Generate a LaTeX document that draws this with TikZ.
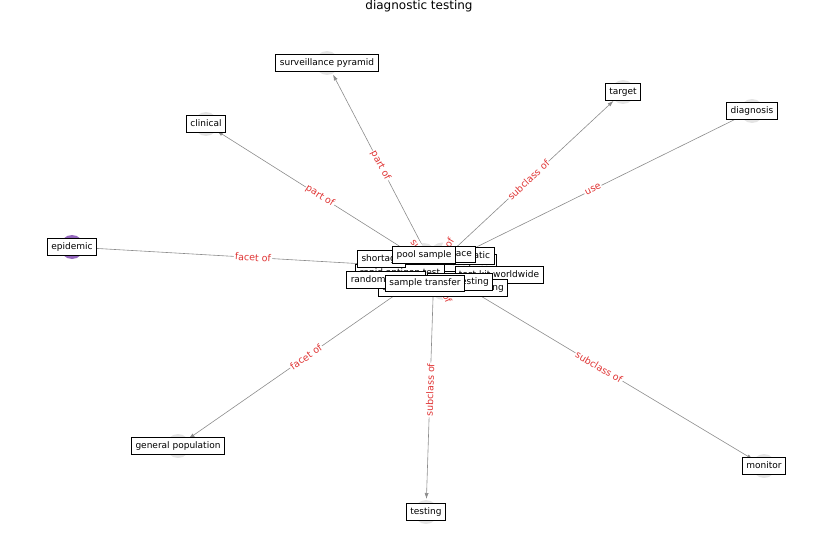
\documentclass[tikz,border=0pt]{standalone}
\usepackage{fontspec}
\setmainfont{DejaVu Sans}
\usetikzlibrary{arrows.meta}

\definecolor{edgegray}{HTML}{8C8C8C}
\definecolor{labred}{HTML}{E03434}
\definecolor{dotgray}{HTML}{E4E4E4}
\definecolor{dotpurple}{HTML}{9467BD}

\tikzset{
  ndot/.style={circle, fill=dotgray, minimum size=24pt, inner sep=0pt, outer sep=1pt},
  tag/.style={draw=black, line width=0.8pt, fill=white, font=\fontsize{9}{10}\selectfont,
    inner xsep=4pt, inner ysep=4pt, text height=6.8pt, text depth=1.9pt},
  rel/.style={draw=edgegray, line width=0.6pt, -{Latex[length=6pt,width=4pt]}},
  rellabel/.style={sloped, text=labred, fill=white, font=\fontsize{9.5}{10}\selectfont, inner sep=1pt},
}

\begin{document}
\begin{tikzpicture}[x=1pt,y=-1pt]
  \useasboundingbox (0,0) rectangle (837,559);

  % title
  \node[font=\fontsize{12}{14}\selectfont] (title) at (419,6) {diagnostic testing};

  % node markers
  \node[ndot] (hub) at (434,268) {};
  \node[ndot] (pyramid) at (327,63) {};
  \node[ndot] (clinical) at (206,124) {};
  \node[ndot] (target) at (623,92) {};
  \node[ndot] (diagnosis) at (752,111) {};
  \node[ndot, fill=dotpurple] (epidemic) at (72,247) {};
  \node[ndot] (population) at (178,446) {};
  \node[ndot] (testing) at (426,512) {};
  \node[ndot] (monitor) at (764,466) {};
  \node[ndot] (pool) at (424,255) {};
  \node[ndot] (trace) at (442,254.5) {};
  \node[ndot] (screening) at (443,288) {};

  % outer edges
  \draw[rel] (hub) -- node[rellabel] {part of} (pyramid);
  \draw[rel] (hub) -- node[rellabel] {part of} (clinical);
  \draw[rel] (hub) -- node[rellabel] {subclass of} (target);
  \draw[rel] (diagnosis) -- node[rellabel] {use} (hub);
  \draw[rel] (epidemic) -- node[rellabel] {facet of} (hub);
  \draw[rel] (hub) -- node[rellabel] {facet of} (population);
  \draw[rel] (hub) -- node[rellabel] {subclass of} (testing);
  \draw[rel] (hub) -- node[rellabel] {subclass of} (monitor);

  % inner edges
  \draw[edgegray, line width=0.6pt] (hub.center) -- node[rellabel] {subclass of} (pool.center);
  \draw[edgegray, line width=0.6pt] (hub.center) -- node[rellabel] {subclass of} (trace.center);
  \draw[edgegray, line width=0.6pt] (hub.center) -- node[rellabel] {subclass of} (screening.center);

  % outer labels
  \node[tag] (pyramid-t) at (pyramid) {surveillance pyramid};
  \node[tag] (clinical-t) at (clinical) {clinical};
  \node[tag] (target-t) at (target) {target};
  \node[tag] (diagnosis-t) at (diagnosis) {diagnosis};
  \node[tag] (epidemic-t) at (epidemic) {epidemic};
  \node[tag] (population-t) at (population) {general population};
  \node[tag] (testing-t) at (testing) {testing};
  \node[tag] (monitor-t) at (monitor) {monitor};

  % crowded labels in the middle
  \node[tag] (hub-t) at (hub) {diagnostic testing};
  \node[tag] (antibody-t) at (463,263) {antibody test};
  \node[tag] (rapid-t) at (400,273) {rapid antigen test};
  \node[tag] (asympt-t) at (458,256) {asymptomatic};
  \node[tag] (trace-t) at (trace) {contact trace};
  \node[tag] (shortage-t) at (381.5,259) {shortage};
  \node[tag] (pool-t) at (pool) {pool sample};
  \node[tag] (kit-t) at (499,275) {test kit worldwide};
  \node[tag] (screening-t) at (screening) {community-wide screening};
  \node[tag] (mass-t) at (460,282) {mass testing};
  \node[tag] (random-t) at (386,280) {random sample};
  \node[tag] (transfer-t) at (425,283.5) {sample transfer};
\end{tikzpicture}
\end{document}
